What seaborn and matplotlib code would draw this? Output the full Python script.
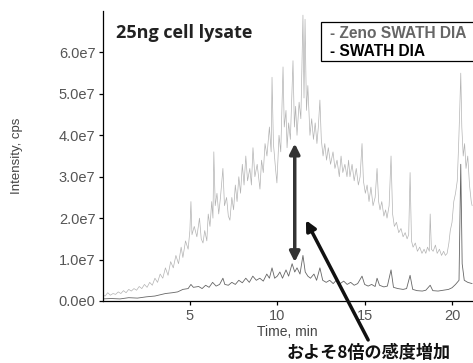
import numpy as np
import pandas as pd
import matplotlib
matplotlib.use("Agg")
import matplotlib.pyplot as plt
import seaborn as sns
from matplotlib.patches import Rectangle

# Chromatogram traces (time in min, intensity in 1e7 cps)
zeno_time = [0.00, 0.15, 0.30, 0.45, 0.60, 0.75, 0.90, 1.05, 1.20, 1.35, 1.50, 1.65,
             1.80, 1.95, 2.10, 2.25, 2.40, 2.55, 2.70, 2.85, 3.00, 3.15, 3.30, 3.45,
             3.60, 3.75, 3.90, 4.05, 4.20, 4.35, 4.50, 4.60, 4.75, 4.90, 5.00, 5.06,
             5.12, 5.25, 5.40, 5.55, 5.65, 5.75, 5.85, 5.97, 6.05, 6.15, 6.25, 6.32,
             6.37, 6.45, 6.55, 6.65, 6.75, 6.89, 6.98, 7.10, 7.20, 7.29, 7.40, 7.50,
             7.60, 7.70, 7.80, 7.90, 8.00, 8.10, 8.20, 8.30, 8.43, 8.52, 8.61, 8.72,
             8.85, 9.01, 9.10, 9.20, 9.30, 9.41, 9.55, 9.65, 9.70, 9.78, 9.90, 9.98,
             10.10, 10.20, 10.33, 10.40, 10.50, 10.56, 10.65, 10.75, 10.82, 10.90,
             10.98, 11.05, 11.13, 11.25, 11.35, 11.47, 11.53, 11.59, 11.67, 11.75,
             11.87, 11.97, 12.07, 12.17, 12.27, 12.35, 12.44, 12.52, 12.62, 12.72,
             12.82, 12.92, 13.05, 13.19, 13.30, 13.42, 13.55, 13.65, 13.75, 13.87,
             13.99, 14.08, 14.16, 14.28, 14.40, 14.52, 14.64, 14.74, 14.85, 14.93,
             15.04, 15.14, 15.25, 15.36, 15.48, 15.60, 15.71, 15.80, 15.88, 15.98,
             16.10, 16.20, 16.28, 16.40, 16.51, 16.60, 16.70, 16.82, 16.95, 17.08,
             17.20, 17.32, 17.43, 17.52, 17.60, 17.68, 17.77, 17.90, 18.02, 18.15,
             18.28, 18.40, 18.50, 18.60, 18.70, 18.75, 18.82, 18.92, 19.05, 19.15,
             19.28, 19.40, 19.52, 19.62, 19.72, 19.82, 19.90, 20.00, 20.10, 20.20,
             20.30, 20.38, 20.44, 20.50, 20.56, 20.64, 20.72, 20.80, 20.90, 21.00,
             21.10, 21.15]
zeno_int = [0.15, 0.12, 0.20, 0.14, 0.18, 0.16, 0.22, 0.18, 0.25, 0.20, 0.28, 0.24,
            0.30, 0.26, 0.35, 0.30, 0.40, 0.33, 0.45, 0.38, 0.55, 0.45, 0.65, 0.55,
            0.80, 0.62, 0.95, 0.80, 1.10, 0.90, 1.30, 1.05, 1.45, 1.25, 1.70, 2.40,
            1.60, 1.80, 1.55, 2.00, 1.50, 1.40, 1.70, 1.45, 2.10, 1.80, 2.40, 2.00,
            3.60, 2.30, 2.60, 2.10, 2.50, 3.20, 2.30, 2.50, 2.05, 1.95, 2.50, 2.20,
            2.80, 2.40, 3.00, 2.60, 3.30, 2.80, 3.50, 2.90, 3.20, 2.80, 3.70, 3.00,
            3.30, 2.70, 3.40, 3.10, 3.80, 3.50, 4.20, 3.60, 5.40, 3.80, 3.20, 2.85,
            4.00, 3.60, 5.65, 4.20, 4.60, 3.70, 4.30, 3.90, 4.80, 5.80,
            4.20, 4.70, 4.00, 4.80, 4.40, 6.90, 4.90, 6.80, 4.60, 5.20,
            4.00, 4.40, 3.90, 4.30, 3.80, 4.20, 4.85, 3.90, 3.50, 3.80,
            3.40, 3.70, 3.30, 3.60, 3.20, 3.40, 3.00, 3.50, 3.10, 3.30,
            3.00, 3.40, 3.00, 3.30, 2.90, 3.20, 2.80, 3.00, 3.80, 2.90,
            2.60, 2.80, 2.40, 2.75, 2.30, 2.50, 3.20, 2.40, 2.20, 2.40,
            2.05, 2.20, 2.00, 2.30, 3.50, 2.10, 1.80, 1.90, 1.65, 1.75,
            1.55, 1.65, 1.50, 1.60, 3.10, 1.45, 1.30, 1.40, 1.20, 1.30,
            1.15, 1.25, 1.15, 1.30, 1.20, 2.10, 1.25, 1.20, 1.35, 1.15,
            1.25, 1.10, 1.20, 1.10, 1.15, 1.40, 1.70, 1.90, 2.40, 2.60,
            2.90, 3.80, 4.60, 5.50, 4.20, 3.50, 3.80, 3.20, 3.50, 2.80,
            2.40, 2.30]

swath_time = [0.0, 0.5, 1.0, 1.5, 2.0, 2.5, 3.0, 3.3, 3.6, 4.0, 4.3, 4.6, 4.9, 5.06,
              5.2, 5.5, 5.7, 5.9, 6.1, 6.3, 6.5, 6.7, 6.89, 7.0, 7.2, 7.4, 7.6, 7.8,
              8.0, 8.2, 8.4, 8.6, 8.8, 9.0, 9.2, 9.4, 9.55, 9.70, 9.85, 10.0, 10.15,
              10.3, 10.5, 10.65, 10.85, 11.0, 11.13, 11.3, 11.47, 11.6, 11.75, 11.9,
              12.1, 12.25, 12.44, 12.6, 12.8, 13.0, 13.2, 13.42, 13.6, 13.8, 14.0,
              14.2, 14.4, 14.6, 14.85, 15.0, 15.2, 15.4, 15.6, 15.71, 15.85, 16.1,
              16.3, 16.51, 16.65, 16.9, 17.2, 17.4, 17.60, 17.75, 18.0, 18.3, 18.5,
              18.75, 18.9, 19.2, 19.5, 19.8, 20.0, 20.2, 20.4, 20.5, 20.58, 20.7,
              20.9, 21.15]
swath_int = [0.05, 0.06, 0.05, 0.08, 0.07, 0.10, 0.12, 0.15, 0.18, 0.20, 0.22, 0.28,
             0.30, 0.40, 0.33, 0.35, 0.30, 0.38, 0.33, 0.45, 0.36, 0.40, 0.55, 0.40,
             0.38, 0.45, 0.40, 0.50, 0.44, 0.55, 0.45, 0.60, 0.50, 0.55, 0.48, 0.65,
             0.55, 0.80, 0.55, 0.60, 0.70, 0.55, 0.75, 0.60, 0.90, 0.70, 0.80, 0.65,
             1.10, 0.70, 0.60, 0.55, 0.65, 0.50, 0.80, 0.50, 0.45, 0.50, 0.42, 0.52,
             0.42, 0.48, 0.40, 0.45, 0.38, 0.42, 0.60, 0.40, 0.36, 0.40, 0.35, 0.55,
             0.38, 0.34, 0.36, 0.75, 0.33, 0.30, 0.28, 0.30, 0.62, 0.28, 0.25, 0.24,
             0.26, 0.38, 0.25, 0.24, 0.26, 0.28, 0.32, 0.40, 0.50, 3.30, 0.90, 0.50,
             0.45, 0.42]

x_ticks = [5, 10, 15, 20]
y_ticks = [0, 1e7, 2e7, 3e7, 4e7, 5e7, 6e7]

zeno = pd.DataFrame({"time": zeno_time, "intensity": np.array(zeno_int) * 1e7})
swath = pd.DataFrame({"time": swath_time, "intensity": np.array(swath_int) * 1e7})

sns.set_style("ticks")
plt.rcParams['font.family'] = ['Liberation Sans', 'DejaVu Sans']

fig = plt.figure(figsize=(4.73, 3.63), dpi=100)
ax = fig.add_axes([102.5 / 473, 62 / 363, 370.5 / 473, 290 / 363])

sns.lineplot(data=zeno, x="time", y="intensity", sort=False, estimator=None,
             color="#b3b3b3", linewidth=0.5, ax=ax)
sns.lineplot(data=swath, x="time", y="intensity", sort=False, estimator=None,
             color="#666666", linewidth=0.6, ax=ax)

ax.set_xlim(0, 21.2)
ax.set_ylim(0, 7e7)
ax.set_xticks(x_ticks)
ax.set_yticks(y_ticks)


def sci_fmt(v, pos):
    if v == 0:
        return "0.0e0"
    exp = int(np.floor(np.log10(abs(v))))
    return f"{v / 10 ** exp:.1f}e{exp}"


ax.yaxis.set_major_formatter(plt.FuncFormatter(sci_fmt))
ax.tick_params(axis="both", length=3, width=0.9, colors="black",
               labelcolor="#555555", labelsize=10.5)
ax.tick_params(axis="y", pad=2)
ax.tick_params(axis="x", pad=3)

sns.despine(ax=ax)
for side in ["left", "bottom"]:
    ax.spines[side].set_linewidth(0.9)
    ax.spines[side].set_color("black")

ax.set_xlabel("Time, min", fontsize=10, color="#444444")
ax.xaxis.set_label_coords(0.5, -24 / 290)
ax.set_ylabel("")
fig.text(17 / 473, 1 - 156 / 363, "Intensity, cps", rotation=90, fontsize=9.5,
         color="#444444", ha="center", va="center")

# Title
ax.text(116 / 473, 1 - 33 / 363, "25ng cell lysate", transform=fig.transFigure,
        fontsize=13, fontweight="bold", color="#222222",
        family=["Open Sans", "DejaVu Sans"], ha="left", va="center")

# Legend box
fig.patches.append(Rectangle((321 / 473, 1 - 61 / 363), 0.5, 39 / 363,
                             transform=fig.transFigure, facecolor="white",
                             edgecolor="black", linewidth=0.9, zorder=5))
fig.text(330 / 473, 1 - 33 / 363, "- Zeno SWATH DIA", fontsize=11.2, fontweight="bold",
         color="#666666", ha="left", va="center", zorder=6)
fig.text(330 / 473, 1 - 51 / 363, "- SWATH DIA", fontsize=11.2, fontweight="bold",
         color="black", ha="left", va="center", zorder=6)

# Double arrow showing the gap between traces
ax.annotate("", xy=(11.0, 0.94e7), xytext=(11.0, 3.8e7),
            arrowprops=dict(arrowstyle="<|-|>", color="#333333", lw=2.5,
                            mutation_scale=15, shrinkA=0, shrinkB=0))

# Pointer arrow from caption
ax.annotate("", xy=(11.64, 1.95e7), xytext=(15.2, -0.94e7),
            arrowprops=dict(arrowstyle="-|>", color="#111111", lw=2.5,
                            mutation_scale=15, shrinkA=0, shrinkB=0),
            annotation_clip=False)
fig.text(369 / 473, 1 - 353 / 363, "およそ8倍の感度増加", fontsize=12.3, fontweight="bold",
         color="#111111", ha="center", va="center",
         family=["Noto Sans CJK JP", "DejaVu Sans"])

fig.savefig("out.png", dpi=100)
